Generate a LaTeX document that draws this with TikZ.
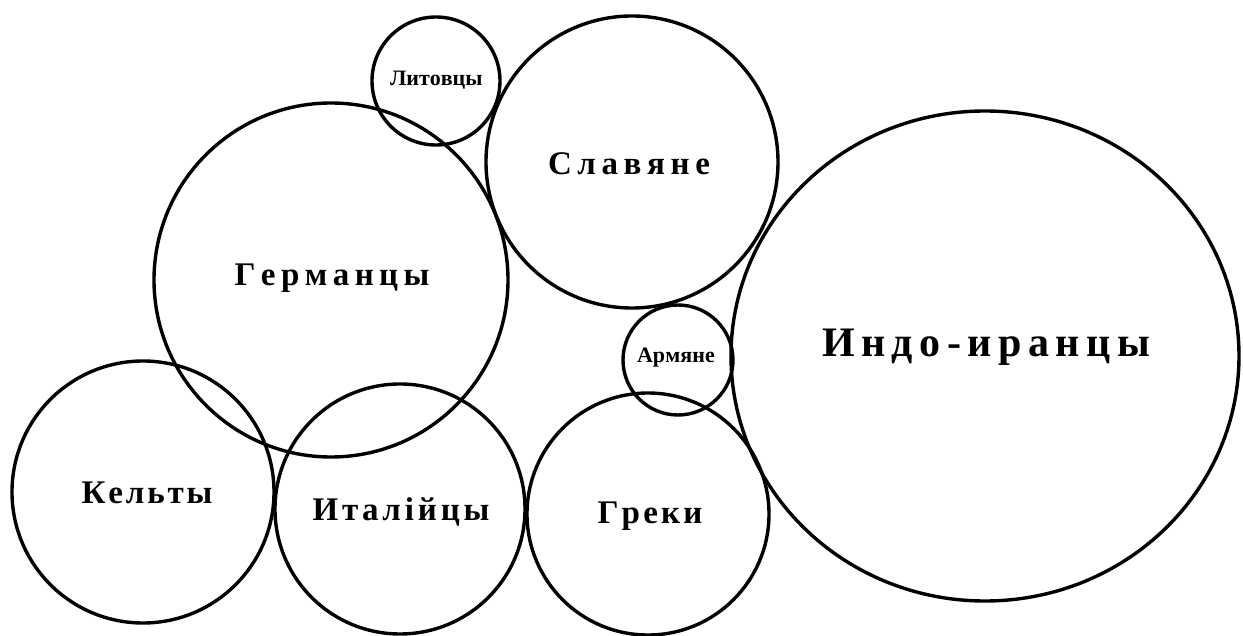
\documentclass[tikz,border=0pt]{standalone}
\usepackage{fontspec}
\setmainfont{Liberation Serif}
\usetikzlibrary{shapes.geometric}
\begin{document}
\begin{tikzpicture}[x=1pt,y=-1pt,
  ring/.style={circle,draw,line width=3.4pt,inner sep=0pt,minimum size=#1},
  lab/.style={inner sep=0pt,anchor=center},
  big/.style={font=\fontsize{33}{35}\selectfont\bfseries},
  huge/.style={font=\fontsize{42}{44}\selectfont\bfseries},
  small/.style={font=\fontsize{22}{24}\selectfont\bfseries}]
\useasboundingbox (0,0) rectangle (1243,636);
\node[ring=128pt] (lit) at (436,81) {};
\node[ring=292pt] (slav) at (632,162) {};
\node[ring=354pt] (germ) at (331,280) {};
\node[ring=110pt] (arm) at (678,360) {};
\node[ellipse,draw,line width=3.4pt,inner sep=0pt,minimum width=508pt,minimum height=490pt] (indo) at (985,356) {};
\node[ring=262pt] (kelt) at (143,492) {};
\node[ring=250pt] (ital) at (400,509) {};
\node[ring=242pt] (grek) at (648,514) {};
\node[lab,small] (tlit) at (435,80) {\makebox[90pt][s]{Л\hfill и\hfill т\hfill о\hfill в\hfill ц\hfill ы}};
\node[lab,small] (tarm) at (676,358) {\makebox[78pt][s]{А\hfill р\hfill м\hfill я\hfill н\hfill е}};
\node[lab,big] (tslav) at (629,164) {\makebox[162pt][s]{С\hfill л\hfill а\hfill в\hfill я\hfill н\hfill е}};
\node[lab,big] (tgerm) at (332,278) {\makebox[195pt][s]{Г\hfill е\hfill р\hfill м\hfill а\hfill н\hfill ц\hfill ы}};
\node[lab,huge] (tindo) at (986,347) {\makebox[328pt][s]{И\hfill н\hfill д\hfill о\hfill -\hfill и\hfill р\hfill а\hfill н\hfill ц\hfill ы}};
\node[lab,big] (tkelt) at (147,493) {\makebox[131pt][s]{К\hfill е\hfill л\hfill ь\hfill т\hfill ы}};
\node[lab,big] (tital) at (401,512) {\makebox[177pt][s]{И\hfill т\hfill а\hfill л\hfill і\hfill й\hfill ц\hfill ы}};
\node[lab,big] (tgrek) at (650,516) {\makebox[105pt][s]{Г\hfill р\hfill е\hfill к\hfill и}};
\end{tikzpicture}
\end{document}
